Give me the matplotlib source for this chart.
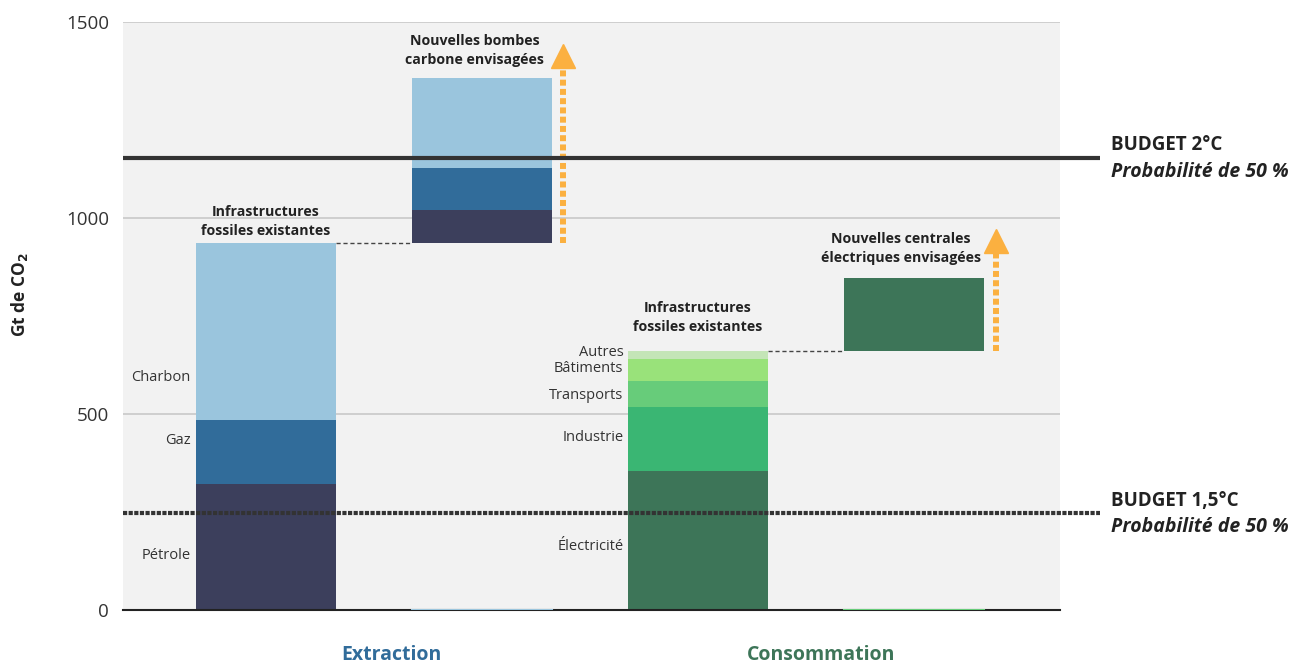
import matplotlib.pyplot as plt
import numpy as np

plt.rcParams['font.family'] = ['Open Sans', 'DejaVu Sans']

# Data (Gt CO2)
extraction_segments = ["Pétrole", "Gaz", "Charbon"]
extraction_existing = [321, 164, 451]
extraction_new = [84, 108, 229]
extraction_colors = ["#3C3F5C", "#316C9A", "#9AC5DD"]

consumption_segments = ["Électricité", "Industrie", "Transports", "Bâtiments", "Autres"]
consumption_existing = [355, 163, 66, 56, 21]
consumption_colors = ["#3D7558", "#3AB673", "#67CC7A", "#99E27A", "#C4E5B7"]
power_new = [186]

budget_2C = 1153
budget_15C = 247

yticks = [0, 500, 1000, 1500]

fig = plt.figure(figsize=(12.94, 6.64), dpi=100)
W, H = 1294, 664
ax = fig.add_axes([123 / W, (H - 610) / H, (1060 - 123) / W, (610 - 22) / H])
ax.set_facecolor("#F2F2F2")

xpos = np.array([0, 1, 2, 3])
bw = 0.648
ax.set_xlim(-0.662, 3.676)
ax.set_ylim(0, 1500)

for y in yticks[1:]:
    ax.axhline(y, color="#CCCCCC", lw=1.3, zorder=0)

# Extraction existing
bottom = 0
for v, c in zip(extraction_existing, extraction_colors):
    ax.bar(xpos[0], v, bw, bottom=bottom, color=c, zorder=2)
    bottom += v
ext_total = bottom
# Extraction new
bottom = ext_total
for v, c in zip(extraction_new, extraction_colors):
    ax.bar(xpos[1], v, bw, bottom=bottom, color=c, zorder=2)
    bottom += v

# Consumption existing
bottom = 0
for v, c in zip(consumption_existing, consumption_colors):
    ax.bar(xpos[2], v, bw, bottom=bottom, color=c, zorder=2)
    bottom += v
cons_total = bottom
ax.bar(xpos[3], power_new[0], bw, bottom=cons_total, color=consumption_colors[0], zorder=2)

# thin baseline tints
ax.plot([xpos[1] - bw / 2, xpos[1] + bw / 2], [1, 1], color="#9AC5DD", lw=1.5, zorder=3)
ax.plot([xpos[3] - bw / 2, xpos[3] + bw / 2], [1, 1], color="#67CC7A", lw=1.5, zorder=3)

# connectors
ax.plot([xpos[0] + bw / 2, xpos[1] - bw / 2], [ext_total, ext_total], color="#444444",
        lw=1, ls=(0, (3, 2)), zorder=2)
ax.plot([xpos[2] + bw / 2, xpos[3] - bw / 2], [cons_total, cons_total], color="#444444",
        lw=1, ls=(0, (3, 2)), zorder=2)

# budget lines
ax.plot([-0.662, 3.86], [budget_2C, budget_2C], color="#333333", lw=3, clip_on=False, zorder=4,
        solid_capstyle="butt")
ax.plot([-0.662, 3.86], [budget_15C, budget_15C], color="#333333", lw=3,
        ls=(0, (1.0, 0.35)), clip_on=False, zorder=4)

# arrows
orange = "#FBB040"
ax_x1 = 1.375
ax.plot([ax_x1, ax_x1], [ext_total, 1392], color=orange, lw=4.3, ls=(0, (1.0, 0.55)), zorder=3,
        dash_capstyle="butt")
ax.plot([ax_x1], [1412], marker="^", ms=17, color=orange, zorder=3, clip_on=False)
ax_x2 = 3.38
ax.plot([ax_x2, ax_x2], [cons_total, 922], color=orange, lw=4.3, ls=(0, (1.0, 0.55)), zorder=3,
        dash_capstyle="butt")
ax.plot([ax_x2], [942], marker="^", ms=17, color=orange, zorder=3, clip_on=False)

# axes styling
for s in ["top", "right", "left"]:
    ax.spines[s].set_visible(False)
ax.spines["bottom"].set_color("#222222")
ax.spines["bottom"].set_linewidth(1.5)
ax.set_xticks([])
ax.set_yticks(yticks)
ax.set_yticklabels([str(t) for t in yticks], fontsize=13.5, color="#333333")
ax.tick_params(axis="y", length=0, pad=10)
fig.text(20 / W, 1 - 295 / H, "Gt de CO$_\\mathbf{2}$", rotation=90, ha="center", va="center",
         fontsize=12.5, fontweight="bold", color="#222222")

txtc = "#333333"
ext_label_y = [140, 432, 592]
for name, y in zip(extraction_segments, ext_label_y):
    ax.text(-0.35, y, name, ha="right", va="center", fontsize=10.5, color=txtc)
cons_label_y = [161, 439, 548, 615, 658]
for name, y in zip(consumption_segments, cons_label_y):
    ax.text(1.655, y, name, ha="right", va="center", fontsize=10.5, color=txtc)

# annotations
ann = dict(ha="center", va="bottom", fontsize=10.2, fontweight="bold", color="#222222",
           linespacing=1.45)
ax.text(xpos[0], ext_total + 12, "Infrastructures\nfossiles existantes", **ann)
ax.text(xpos[2], cons_total + 42, "Infrastructures\nfossiles existantes", **ann)
ax.text(0.965, 1385, "Nouvelles bombes\ncarbone envisagées", **ann)
ax.text(2.94, 880, "Nouvelles centrales\nélectriques envisagées", **ann)

# budget labels
bx = 3.91
for by, t in [(budget_2C, "BUDGET 2°C"), (budget_15C, "BUDGET 1,5°C")]:
    ax.text(bx, by + 32, t, ha="left", va="center", fontsize=13.5,
            fontweight="bold", color="#222222", clip_on=False)
    ax.text(bx, by - 35, "Probabilité de 50 %", ha="left", va="center", fontsize=14,
            fontweight="bold", style="italic", color="#222222", clip_on=False)

# category labels
ax.text(0.58, -115, "Extraction", ha="center", va="center", fontsize=14, fontweight="bold",
        color="#316C9A", clip_on=False)
ax.text(2.57, -115, "Consommation", ha="center", va="center", fontsize=14, fontweight="bold",
        color="#3D7558", clip_on=False)

fig.savefig("out.png", dpi=100)
